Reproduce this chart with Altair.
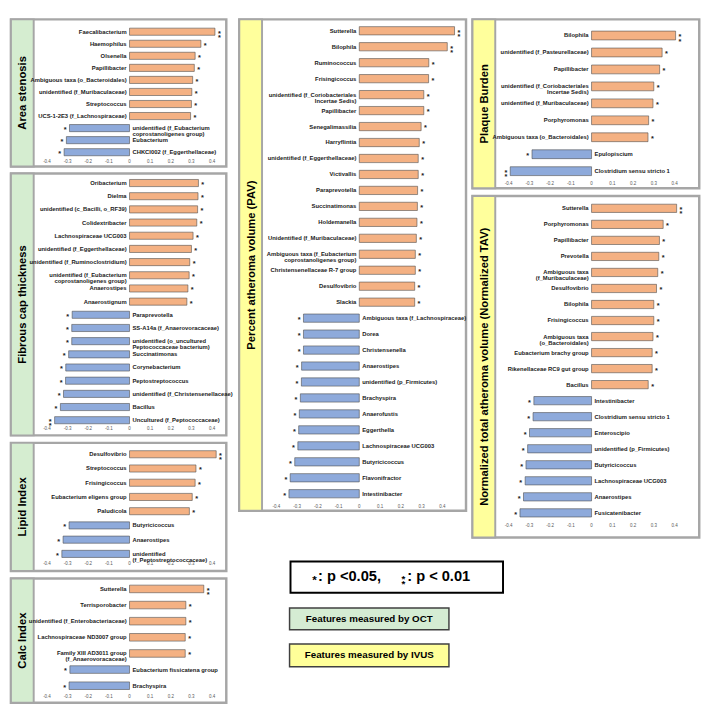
import altair as alt
import pandas as pd

# ---------------- data ----------------
AREA_NAMES = ["Faecalibacterium", "Haemophilus", "Olsenella", "Papillibacter",
              "Ambiguous taxa (o_Bacteroidales)", "unidentified (f_Muribaculaceae)",
              "Streptococcus", "UCS-1-2E3 (f_Lachnospiraceae)",
              "unidentified (f_Eubacterium\ncoprostanoligenes group)", "Eubacterium",
              "CHKCI002 (f_Eggerthellaceae)"]
AREA_VALS = [0.414, 0.346, 0.318, 0.314, 0.306, 0.302, 0.300, 0.296, -0.291, -0.306, -0.317]
AREA_SIG = [2, 1, 1, 1, 1, 1, 1, 1, 1, 1, 1]

FIB_NAMES = ["Oribacterium", "Dielma", "unidentified (c_Bacilli, o_RF39)", "Colidextribacter",
             "Lachnospiraceae UCG003", "unidentified (f_Eggerthellaceae)",
             "unidentified (f_Ruminoclostridium)",
             "unidentified (f_Eubacterium\ncoprostanoligenes group)", "Anaerostipes",
             "Anaerostignum", "Paraprevotella", "SS-A14a (f_Anaerovoracaceae)",
             "unidentified (o_uncultured\nPeptococcaceae bacterium)", "Succinatimonas",
             "Corynebacterium", "Peptostreptococcus", "unidentified (f_Christensenellaceae)",
             "Bacillus", "Uncultured (f_Peptococcaceae)"]
FIB_VALS = [0.334, 0.332, 0.330, 0.326, 0.308, 0.300, 0.292, 0.289, 0.283, 0.278,
            -0.278, -0.280, -0.280, -0.295, -0.309, -0.310, -0.320, -0.335, -0.363]
FIB_SIG = [1] * 18 + [2]

LIP_NAMES = ["Desulfovibrio", "Streptococcus", "Frisingicoccus", "Eubacterium eligens group",
             "Paludicola", "Butyricicoccus", "Anaerostipes",
             "unidentified\n(f_Peptostreptococcaceae)"]
LIP_VALS = [0.420, 0.322, 0.318, 0.304, 0.290, -0.293, -0.322, -0.328]
LIP_SIG = [2, 1, 1, 1, 1, 1, 1, 1]

CALC_NAMES = ["Sutterella", "Terrisporobacter", "unidentified (f_Enterobacteriaceae)",
              "Lachnospiraceae ND3007 group", "Family XIII AD3011 group\n(f_Anaerovoracaceae)",
              "Eubacterium fissicatena group", "Brachyspira"]
CALC_VALS = [0.360, 0.273, 0.273, 0.270, 0.270, -0.289, -0.293]
CALC_SIG = [2, 1, 1, 1, 1, 1, 1]

PAV_NAMES = ["Sutterella", "Bilophila", "Ruminococcus", "Frisingicoccus",
             "unidentified (f_Coriobacteriales\nIncertae Sedis)", "Papillibacter",
             "Senegalimassilia", "Harryflintia", "unidentified (f_Eggerthellaceae)",
             "Victivallis", "Paraprevotella", "Succinatimonas", "Holdemanella",
             "Unidentified (f_Muribaculaceae)",
             "Ambiguous taxa (f_Eubacterium\ncoprostanoligenes group)",
             "Christensenellaceae R-7 group", "Desulfovibrio", "Slackia",
             "Ambiguous taxa (f_Lachnospiraceae)", "Dorea", "Christensenella", "Anaerostipes",
             "unidentified (p_Firmicutes)", "Brachyspira", "Anaerofustis", "Eggerthella",
             "Lachnospiraceae UCG003", "Butyricicoccus", "Flavonifractor", "Intestinibacter"]
PAV_VALS = [0.459, 0.424, 0.335, 0.334, 0.311, 0.311, 0.298, 0.289, 0.284, 0.284,
            0.281, 0.280, 0.278, 0.275, 0.270, 0.270, 0.267, 0.267,
            -0.269, -0.269, -0.269, -0.278, -0.279, -0.284, -0.289, -0.292, -0.296,
            -0.311, -0.333, -0.339]
PAV_SIG = [2, 2] + [1] * 28

PB_NAMES = ["Bilophila", "unidentified (f_Pasteurellaceae)", "Papillibacter",
            "unidentified (f_Coriobacteriales\nIncertae Sedis)", "unidentified (f_Muribaculaceae)",
            "Porphyromonas", "Ambiguous taxa (o_Bacteroidales)", "Epulopiscium",
            "Clostridium sensu stricto 1"]
PB_VALS = [0.405, 0.340, 0.328, 0.300, 0.296, 0.275, 0.272, -0.287, -0.392]
PB_SIG = [2, 1, 1, 1, 1, 1, 1, 1, 2]

TAV_NAMES = ["Sutterella", "Porphyromonas", "Papillibacter", "Prevotella",
             "Ambiguous taxa\n(f_Muribaculaceae)", "Desulfovibrio", "Bilophila",
             "Frisingicoccus", "Ambiguous taxa\n(o_Bacteroidales)", "Eubacterium brachy group",
             "Rikenellaceae RC9 gut group", "Bacillus", "Intestinibacter",
             "Clostridium sensu stricto 1", "Enteroscipio", "unidentified (p_Firmicutes)",
             "Butyricicoccus", "Lachnospiraceae UCG003", "Anaerostipes", "Fusicatenibacter"]
TAV_VALS = [0.410, 0.345, 0.327, 0.324, 0.319, 0.313, 0.300, 0.300, 0.296, 0.292,
            0.292, 0.273, -0.278, -0.282, -0.299, -0.308, -0.316, -0.320, -0.328, -0.345]
TAV_SIG = [2] + [1] * 19

TICKS = [-0.4, -0.3, -0.2, -0.1, 0, 0.1, 0.2, 0.3, 0.4]
TICK_LABELS = ["-0.4", "-0.3", "-0.2", "-0.1", "0", "0.1", "0.2", "0.3", "0.4"]

TITLES = ["Area stenosis", "Fibrous cap thickness", "Lipid Index", "Calc Index",
          "Percent atheroma volume (PAV)", "Plaque Burden",
          "Normalized total atheroma volume (Normalized TAV)"]
LEGEND_P = ["*", ": p <0.05,", "*\n*", ": p < 0.01"]
LEGEND_BOX = ["Features measured by OCT", "Features measured by IVUS"]

# ---------------- style ----------------
S = 0.972
def P(v):
    return v * S

ORANGE = "#f4b183"
BLUE = "#8eaadb"
GREEN = "#d5edd0"
YELLOW = "#ffff9c"
BORDER = "#a6a6a6"
TF = "Liberation Sans"
LF = "Liberation Sans"
LFS = 6.0

tick_df = pd.DataFrame({"tick": TICKS, "lab": TICK_LABELS})


def make_panel(title, names, vals, sigs, fill, W, H, yf, yl, yt, bar_h,
               xm=38, xp=212, title_size=11.5):
    df = pd.DataFrame({"name": names, "value": vals, "zero": [0.0] * len(vals),
                       "stars": ["*" if s == 1 else "*\n*" for s in sigs]})
    sdf = pd.DataFrame({"t": [title]})
    xs = alt.Scale(domain=[-0.4, 0.4], range=[P(xm), P(xp)], nice=False, zero=False)
    X = alt.X("value:Q", scale=xs, axis=None)
    X0 = alt.X("zero:Q", scale=xs, axis=None)
    Y = alt.Y("name:N", sort=None, axis=None,
              scale=alt.Scale(type="point", range=[P(yf), P(yl)], padding=0))
    strip = alt.Chart(sdf).mark_rect(fill=fill, stroke=BORDER, strokeWidth=2).encode(
        x=alt.value(0), x2=alt.value(P(24)), y=alt.value(0), y2=alt.value(P(H)))
    ttl = alt.Chart(sdf).mark_text(angle=270, font=TF, fontSize=title_size,
                                   fontWeight="bold", color="#000000").encode(
        x=alt.value(P(13)), y=alt.value(P(H) / 2), text="t:N")
    ticks = alt.Chart(tick_df).mark_text(font=TF, fontSize=4.6, color="#595959",
                                         baseline="middle", align="center").encode(
        x=alt.X("tick:Q", scale=xs, axis=None), y=alt.value(P(yt)), text="lab:N")
    base = alt.Chart(df)
    bars = base.mark_bar(size=P(bar_h), stroke="#4d4d4d", strokeWidth=0.6).encode(
        x=X, x2=alt.X2("zero"), y=Y,
        color=alt.condition(alt.datum.value > 0, alt.value(ORANGE), alt.value(BLUE)))
    pos = base.transform_filter(alt.datum.value > 0)
    neg = base.transform_filter(alt.datum.value < 0)
    lab_kw = dict(font=LF, fontSize=LFS, fontWeight="bold", color="#1a1a1a",
                  lineBreak="\n", lineHeight=6.2, baseline="middle")
    star_kw = dict(font=TF, fontSize=7.5, fontWeight="bold", color="#1a1a1a",
                   lineBreak="\n", lineHeight=4.2, baseline="middle", dy=2)
    lp = pos.mark_text(align="right", dx=-3, **lab_kw).encode(x=X0, y=Y, text="name:N")
    ln = neg.mark_text(align="left", dx=3, **lab_kw).encode(x=X0, y=Y, text="name:N")
    sp = pos.mark_text(align="left", dx=3, **star_kw).encode(x=X, y=Y, text="stars:N")
    sn = neg.mark_text(align="right", dx=-3, **star_kw).encode(x=X, y=Y, text="stars:N")
    return alt.layer(strip, ttl, ticks, bars, lp, ln, sp, sn).properties(
        width=P(W), height=P(H))


area = make_panel(TITLES[0], AREA_NAMES, AREA_VALS, AREA_SIG, GREEN, 227, 155, 13, 140, 150, 7.5)
fib = make_panel(TITLES[1], FIB_NAMES, FIB_VALS, FIB_SIG, GREEN, 227, 276, 10, 260, 269, 7.5)
lip = make_panel(TITLES[2], LIP_NAMES, LIP_VALS, LIP_SIG, GREEN, 227, 135, 12, 117, 128, 7.5)
calc = make_panel(TITLES[3], CALC_NAMES, CALC_VALS, CALC_SIG, GREEN, 227, 131, 11, 113, 125, 8)
pav = make_panel(TITLES[4], PAV_NAMES, PAV_VALS, PAV_SIG, YELLOW, 239, 518, 12, 500, 514, 8.7,
                 xm=39, xp=214)
pb = make_panel(TITLES[5], PB_NAMES, PB_VALS, PB_SIG, YELLOW, 239, 178, 17, 160, 174, 9.3,
                xm=38, xp=213)
tav = make_panel(TITLES[6], TAV_NAMES, TAV_VALS, TAV_SIG, YELLOW, 239, 360, 13, 334, 348, 8.7,
                 xm=38, xp=213)

# ---------------- legend ----------------
one = pd.DataFrame({"k": [0]})
def box(x0, x1, y0, y1, fill, stroke, sw):
    return alt.Chart(one).mark_rect(fill=fill, stroke=stroke, strokeWidth=sw).encode(
        x=alt.value(P(x0)), x2=alt.value(P(x1)), y=alt.value(P(y0)), y2=alt.value(P(y1)))

def txt(s, x, y, size, align="left", lh=None, dy=0):
    kw = dict(font=TF, fontSize=size, fontWeight="bold", color="#000000", align=align,
              baseline="middle", dy=dy)
    if lh is not None:
        kw.update(lineBreak="\n", lineHeight=lh)
    d = pd.DataFrame({"s": [s]})
    return alt.Chart(d).mark_text(**kw).encode(x=alt.value(P(x)), y=alt.value(P(y)), text="s:N")

legend = alt.layer(
    box(54, 278, 18, 51, "#ffffff", "#000000", 2),
    txt(LEGEND_P[0], 77, 33, 12, dy=4),
    txt(LEGEND_P[1], 83, 33, 15),
    txt(LEGEND_P[2], 171, 33, 10, lh=6, dy=3),
    txt(LEGEND_P[3], 177, 33, 15),
    box(53, 221, 67, 90, "#d5ecd3", "#404040", 1.5),
    txt(LEGEND_BOX[0], 137, 78.5, 10, align="center"),
    box(53, 221, 105, 129, "#ffff99", "#404040", 1.5),
    txt(LEGEND_BOX[1], 137, 117, 10, align="center"),
).properties(width=P(480), height=P(161), view=alt.ViewBackground(stroke="transparent"))

left = alt.vconcat(area, fib, lip, calc, spacing=P(2))
right = alt.vconcat(pb, tav, spacing=P(2))
top = alt.hconcat(pav, right, spacing=P(2))
midright = alt.vconcat(top, legend, spacing=P(2))

chart = alt.hconcat(left, midright, spacing=P(2)).properties(
    padding=0, background="white"
).configure_view(stroke=BORDER, strokeWidth=2.5)

chart.save("out.html", embed_options={"renderer": "svg", "actions": False})
